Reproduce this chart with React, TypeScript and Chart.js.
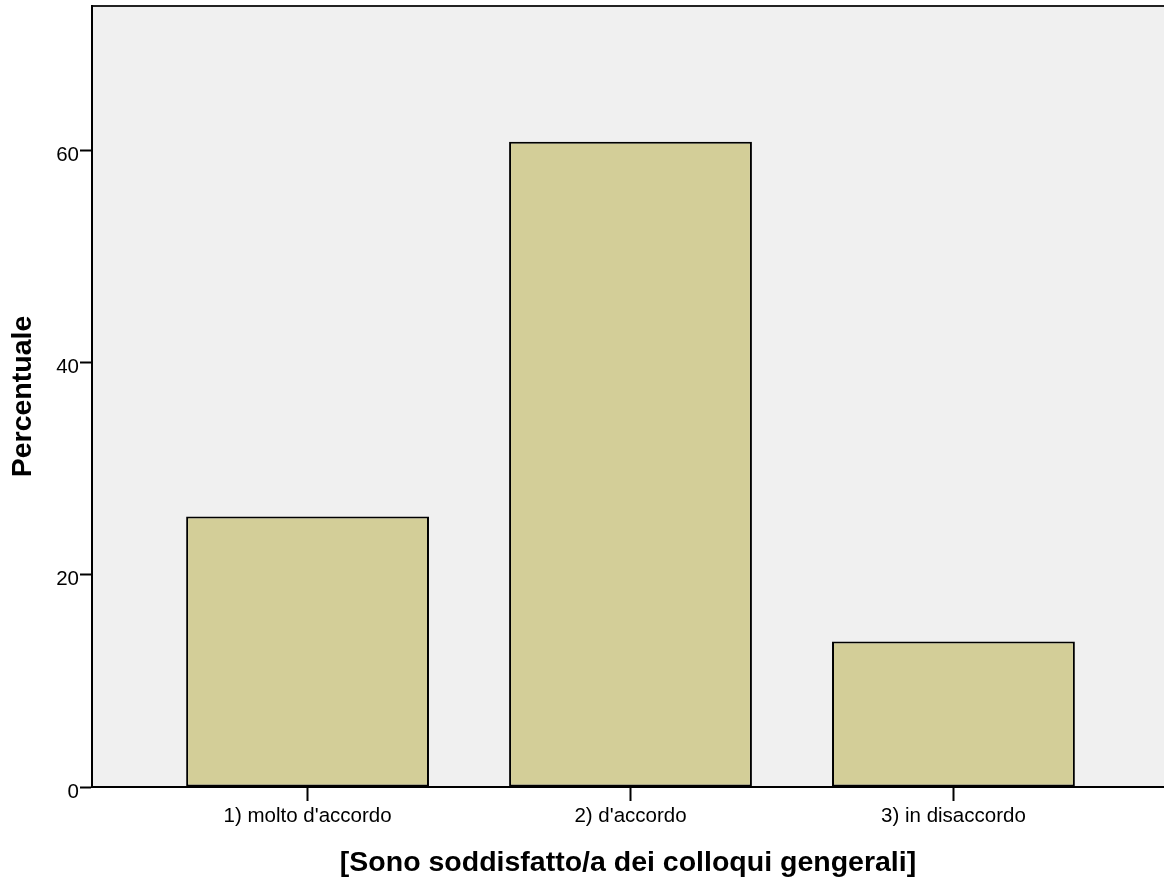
import React, { useEffect, useRef } from "react";
import { Chart, registerables } from "chart.js";

Chart.register(...registerables);

const categories = ["1) molto d'accordo", "2) d'accordo", "3) in disaccordo"];
const percentValues = [25.5, 60.8, 13.7];
const yTickValues = [0, 20, 40, 60];
const xTitle = "[Sono soddisfatto/a dei colloqui gengerali]";
const yTitle = "Percentuale";

const FONT = "'Liberation Sans', Arial, Helvetica, sans-serif";

const plotBg = {
  id: "plotBg",
  beforeDraw(chart: any) {
    const { ctx, chartArea } = chart;
    if (!chartArea) return;
    ctx.save();
    ctx.fillStyle = "#f0f0f0";
    ctx.fillRect(chartArea.left, chartArea.top, chartArea.right - chartArea.left, chartArea.bottom - chartArea.top);
    ctx.strokeStyle = "#222222";
    ctx.lineWidth = 2;
    ctx.beginPath();
    ctx.moveTo(chartArea.left, chartArea.top);
    ctx.lineTo(chartArea.right, chartArea.top);
    ctx.stroke();
    ctx.restore();
  },
};

export default function App() {
  const canvasRef = useRef<HTMLCanvasElement | null>(null);

  useEffect(() => {
    if (!canvasRef.current) return;
    const points = categories.map((_, i) => ({ x: i + 1, y: percentValues[i] }));
    const chart = new Chart(canvasRef.current, {
      type: "bar",
      data: {
        datasets: [
          {
            data: points as any,
            backgroundColor: "#d3ce98",
            borderColor: "#000000",
            borderWidth: 2,
            borderSkipped: false,
            categoryPercentage: 1,
            barPercentage: 0.752,
          },
        ],
      },
      options: {
        animation: false,
        responsive: true,
        maintainAspectRatio: false,
        layout: { padding: { top: 6, right: 0, left: 0, bottom: 0 } },
        plugins: {
          legend: { display: false },
          tooltip: { enabled: false },
        },
        scales: {
          x: {
            type: "linear",
            offset: false,
            bounds: "data",
            min: 0.3325,
            max: 3.652,
            afterBuildTicks: (scale: any) => {
              scale.ticks = categories.map((_, i) => ({ value: i + 1 }));
            },
            afterFit: (scale: any) => {
              scale.height = 94;
              scale.paddingLeft = 0;
              scale.paddingRight = 0;
            },
            ticks: {
              callback: (v: any) => categories[Number(v) - 1] ?? "",
              color: "#000000",
              font: { family: FONT, size: 20.5 },
              padding: 3,
              maxRotation: 0,
              autoSkip: false,
            },
            grid: {
              display: true,
              offset: false,
              drawOnChartArea: false,
              color: "#000000",
              tickColor: "#000000",
              tickLength: 14,
              tickWidth: 2,
            },
            border: { display: true, color: "#000000", width: 2 },
            title: {
              display: true,
              text: xTitle,
              color: "#000000",
              font: { family: FONT, size: 28.5, weight: "bold" },
              padding: { top: 4, bottom: 1 },
            },
          },
          y: {
            min: 0,
            max: 73.6,
            afterBuildTicks: (scale: any) => {
              scale.ticks = yTickValues.map((v) => ({ value: v }));
            },
            afterFit: (scale: any) => {
              scale.width = 92;
              scale.paddingTop = 0;
              scale.paddingBottom = 0;
            },
            ticks: {
              color: "#000000",
              font: { family: FONT, size: 20.5 },
              padding: 1,
              labelOffset: 5,
            },
            grid: {
              display: true,
              drawOnChartArea: false,
              color: "#000000",
              tickColor: "#000000",
              tickLength: 12,
              tickWidth: 2,
            },
            border: { display: true, color: "#000000", width: 2 },
            title: {
              display: true,
              text: yTitle,
              color: "#000000",
              font: { family: FONT, size: 28.5, weight: "bold" },
              padding: { top: 6, bottom: 0 },
            },
          },
        },
      },
      plugins: [plotBg],
    });
    return () => chart.destroy();
  }, []);

  return (
    <div style={{ position: "absolute", left: 0, top: 0, width: 1164, height: 881, background: "#ffffff" }}>
      <canvas ref={canvasRef} />
    </div>
  );
}
